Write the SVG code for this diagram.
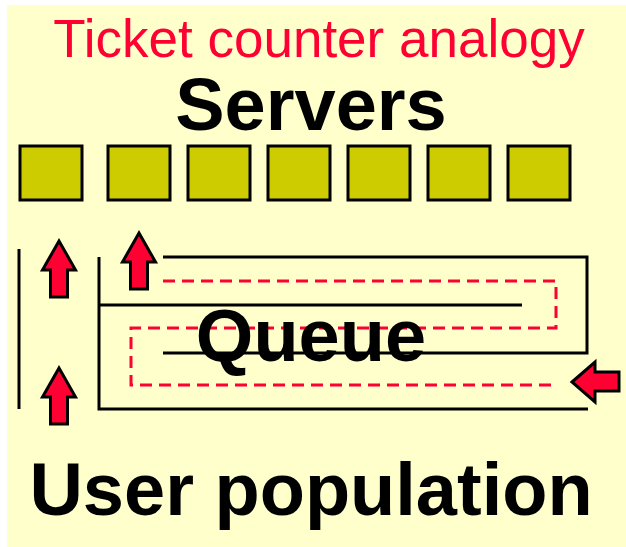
<svg xmlns="http://www.w3.org/2000/svg" width="626" height="547" viewBox="0 0 626 547">
<style>
.t{font-family:"Liberation Sans",Arial,sans-serif}
.big{font-size:74px;font-weight:bold;fill:#000}
.srv{fill:#CCCC00;stroke:#000;stroke-width:3}
.ln{fill:none;stroke:#000;stroke-width:3}
.dash{fill:none;stroke:#FF0033;stroke-width:3;stroke-dasharray:12 7}
.arr{fill:#FF0033;stroke:#000;stroke-width:3;stroke-linejoin:miter}
</style>
<defs>
<path id="up" d="M0,0 L16.5,29 L8.5,29 L8.5,56 L-8.5,56 L-8.5,29 L-16.5,29 Z"/>
</defs>
<rect x="7" y="5" width="619" height="542" fill="#FFFFCC"/>
<text id="title" class="t" x="319" y="57" text-anchor="middle" font-size="53" fill="#FF0033">Ticket counter analogy</text>
<g id="servers">
<text class="t big" x="311" y="130" text-anchor="middle">Servers</text>
<rect class="srv" x="20" y="146" width="62" height="54"/>
<rect class="srv" x="108" y="146" width="62" height="54"/>
<rect class="srv" x="188" y="146" width="62" height="54"/>
<rect class="srv" x="268" y="146" width="62" height="54"/>
<rect class="srv" x="348" y="146" width="62" height="54"/>
<rect class="srv" x="428" y="146" width="62" height="54"/>
<rect class="srv" x="508" y="146" width="62" height="54"/>
</g>
<g id="queue">
<polyline class="ln" points="99,257 99,409 588,409"/>
<line class="ln" x1="99" y1="305" x2="522" y2="305"/>
<polyline class="ln" points="163,257 587,257 587,353 163,353"/>
<line class="ln" x1="19" y1="249" x2="19" y2="409"/>
<polyline class="dash" points="163,281 556,281 556,328 131,328 131,385 557,385"/>
<text class="t big" x="311" y="361" text-anchor="middle">Queue</text>
</g>
<g id="connectors">
<use href="#up" class="arr" x="59" y="241"/>
<use href="#up" class="arr" x="139" y="233"/>
<use href="#up" class="arr" x="59" y="368"/>
<path class="arr" d="M572,382 L595,362 L595,372 L619,372 L619,391 L595,391 L595,402 Z"/>
</g>
<text id="users" class="t big" x="311" y="515" text-anchor="middle">User population</text>
</svg>
